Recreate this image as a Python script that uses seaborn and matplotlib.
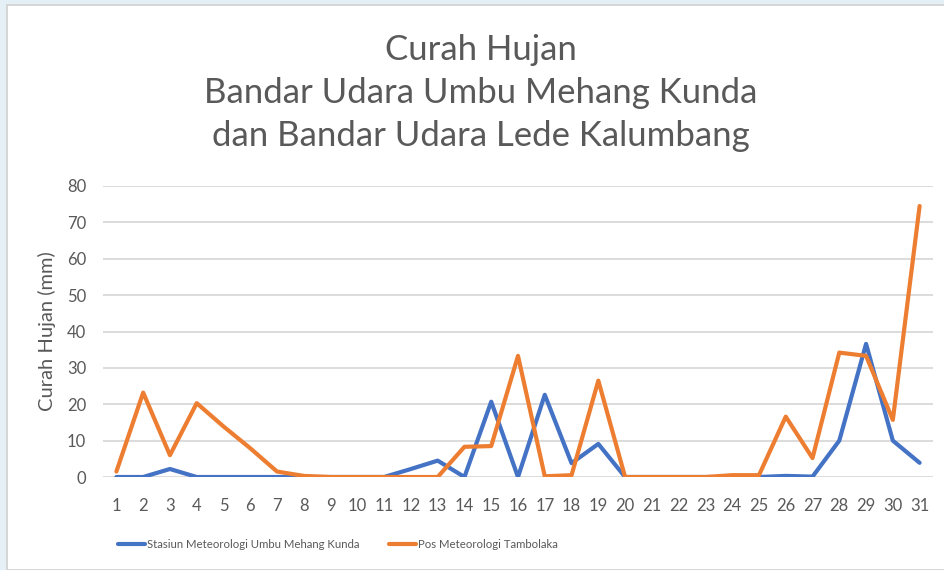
import pandas as pd
import matplotlib.pyplot as plt
import seaborn as sns
from matplotlib.patches import Rectangle

# daily rainfall (mm)
days = list(range(1, 32))
umbu_mehang_kunda = [0, 0, 2.2, 0, 0, 0, 0, 0, 0, 0, 0, 2.2, 4.5, 0, 20.7, 0,
                     22.6, 3.8, 9.1, 0, 0, 0, 0, 0, 0, 0.3, 0.1, 10, 36.6, 10, 3.9]
tambolaka = [1.5, 23.2, 6.0, 20.3, 13.9, 7.9, 1.5, 0.3, 0, 0, 0, 0, 0, 8.3, 8.5,
             33.3, 0.2, 0.5, 26.5, 0, 0, 0, 0, 0.5, 0.5, 16.6, 5.2, 34.2, 33.3,
             15.7, 74.5]
series_names = ["Stasiun Meteorologi Umbu Mehang Kunda", "Pos Meteorologi Tambolaka"]
y_ticks = [0, 10, 20, 30, 40, 50, 60, 70, 80]

df = pd.concat([
    pd.DataFrame({"Hari": days, "Curah": umbu_mehang_kunda, "Pos": series_names[0]}),
    pd.DataFrame({"Hari": days, "Curah": tambolaka, "Pos": series_names[1]}),
])

sns.set_style("white")
plt.rcParams["font.family"] = ["Lato", "DejaVu Sans"]
grey = "#595959"
colors = ["#4472C4", "#ED7D31"]

fig = plt.figure(figsize=(9.44, 5.7), dpi=100)
fig.patch.set_facecolor("#e4f0f6")
# white chart area with thin grey edge (screenshot frame)
fig.patches.append(Rectangle((7 / 944, 0), 1, 1 - 5 / 570, transform=fig.transFigure,
                             facecolor="white", edgecolor="#d0d0d0", linewidth=1.2,
                             zorder=-5))

ax = fig.add_axes([103 / 944, 1 - 477 / 570, (933 - 103) / 944, (477 - 186) / 570])
ax.set_facecolor("none")

sns.lineplot(data=df, x="Hari", y="Curah", hue="Pos", ax=ax,
             palette=colors, linewidth=3.0, legend=False)

ax.set_xlim(0.5, 31.5)
ax.set_ylim(0, 80)
ax.set_xticks(days)
ax.set_yticks(y_ticks)
ax.tick_params(axis="both", length=0, labelsize=12, colors=grey)
ax.tick_params(axis="x", pad=15)
ax.tick_params(axis="y", pad=12)
ax.yaxis.grid(True, color="#d9d9d9", linewidth=1.3)
ax.set_axisbelow(True)
for s in ax.spines.values():
    s.set_visible(False)

ax.set_xlabel("")
ax.set_ylabel("Curah Hujan (mm)", fontsize=14.5, color=grey)
ax.yaxis.set_label_coords(-47 / 830, 0.5)

fig.text(481 / 944, 1 - 93 / 570,
         "Curah Hujan\nBandar Udara Umbu Mehang Kunda\ndan Bandar Udara Lede Kalumbang",
         ha="center", va="center", fontsize=25, color=grey, linespacing=1.43)

handles = [plt.Line2D([], [], color=c, linewidth=3.0) for c in colors]
fig.legend(handles, series_names, loc="center", bbox_to_anchor=(338 / 944, 1 - 544 / 570),
           ncol=2, frameon=False, fontsize=8.2, labelcolor=grey, handlelength=2.37,
           handletextpad=0.12, columnspacing=2.63)

fig.savefig("out.png", dpi=100)
